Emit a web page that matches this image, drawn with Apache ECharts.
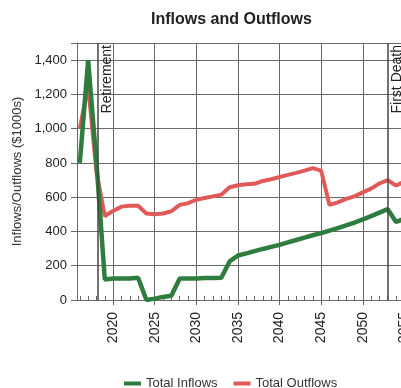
<!DOCTYPE html>
<html>
<head>
<meta charset="utf-8">
<title>Inflows and Outflows</title>
<script src="https://cdn.jsdelivr.net/npm/echarts@6/dist/echarts.min.js"></script>
<style>
  html, body { margin: 0; padding: 0; background: #fff; }
  #main { width: 401px; height: 388px; }
</style>
</head>
<body>
<div id="main"></div>
<script>
// 年份
var years = [
  2016, 2017, 2018, 2019, 2020, 2021, 2022, 2023, 2024, 2025,
  2026, 2027, 2028, 2029, 2030, 2031, 2032, 2033, 2034, 2035,
  2036, 2037, 2038, 2039, 2040, 2041, 2042, 2043, 2044, 2045,
  2046, 2047, 2048, 2049, 2050, 2051, 2052, 2053, 2054, 2055,
  2056
];
var totalInflows = [
  800, 1400, 800, 120, 125, 125, 125, 130, 0, 8,
  18, 25, 125, 125, 125, 128, 128, 130, 225, 260,
  272, 285, 298, 310, 322, 336, 350, 364, 378, 390,
  405, 420, 435, 452, 470, 490, 510, 530, 455, 475,
  490
];
var totalOutflows = [
  1000, 1250, 750, 490, 520, 545, 550, 550, 505, 500,
  505, 518, 555, 565, 585, 595, 605, 615, 658, 670,
  675, 678, 695, 705, 718, 730, 742, 755, 770, 755,
  555, 570, 590, 605, 628, 650, 680, 700, 668, 690,
  700
];
var yearLabels = [2020, 2025, 2030, 2035, 2040, 2045, 2050, 2055];
var yearTicks = [
  2016, 2017, 2018, 2019, 2020, 2021, 2022, 2023, 2024, 2025,
  2026, 2027, 2028, 2029, 2030, 2031, 2032, 2033, 2034, 2035,
  2036, 2037, 2038, 2039, 2040, 2041, 2042, 2043, 2044, 2045,
  2046, 2047, 2048, 2049, 2050, 2051, 2052, 2053, 2054, 2055,
  2056, 2057, 2058
];
var events = [
  { name: 'Retirement', year: 2018.2 },
  { name: 'First Death', year: 2053 }
];

var fontFamily = '"Liberation Sans", Arial, sans-serif';
var gridColor = '#6a6a6a';

function pairs(vals) {
  return years.map(function(y, i) { return [y, vals[i]]; });
}

var chart = echarts.init(document.getElementById('main'));
var option = {
  animation: false,
  backgroundColor: '#fff',
  title: {
    text: 'Inflows and Outflows',
    left: 146,
    top: 7,
    textStyle: { fontFamily: fontFamily, fontSize: 16, fontWeight: 'bold', color: '#222' }
  },
  legend: {
    left: 119,
    top: 372,
    icon: 'rect',
    itemWidth: 17,
    itemHeight: 4,
    itemGap: 16,
    textStyle: { fontFamily: fontFamily, fontSize: 13, color: '#333' },
    data: ['Total Inflows', 'Total Outflows']
  },
  grid: { left: 77, top: 43, right: -30, bottom: 88, containLabel: false, outerBoundsMode: 'none' },
  xAxis: [{
    type: 'value',
    position: 'bottom',
    min: 2015.66,
    max: 2058.2,
    axisLine: { show: true, lineStyle: { color: gridColor, width: 1 } },
    axisTick: { show: true, inside: false, length: 5, customValues: yearLabels, lineStyle: { color: gridColor } },
    axisLabel: {
      customValues: yearLabels,
      rotate: 90,
      margin: 12,
      fontFamily: fontFamily,
      fontSize: 14,
      color: '#222',
      formatter: function(v) { return String(v); }
    },
    splitLine: { show: true, lineStyle: { color: gridColor, width: 1 } }
  }, {
    type: 'value',
    position: 'bottom',
    min: 2015.66,
    max: 2058.2,
    axisLine: { show: false },
    axisTick: { show: true, inside: true, length: 4, customValues: yearTicks, lineStyle: { color: gridColor } },
    axisLabel: { show: false },
    splitLine: { show: false }
  }],
  yAxis: {
    type: 'value',
    min: 0,
    max: 1500,
    interval: 200,
    name: 'Inflows/Outflows ($1000s)',
    nameLocation: 'middle',
    nameGap: 50,
    nameTextStyle: { fontFamily: fontFamily, fontSize: 13, color: '#333' },
    axisLine: { show: true, lineStyle: { color: gridColor, width: 1 } },
    axisTick: { show: true, length: 6, lineStyle: { color: gridColor } },
    axisLabel: {
      margin: 10,
      fontFamily: fontFamily,
      fontSize: 13,
      color: '#222',
      formatter: function(v) { return v === 1500 ? '' : v.toLocaleString('en-US'); }
    },
    splitLine: { show: true, lineStyle: { color: gridColor, width: 1 } }
  },
  series: [{
    name: 'Total Inflows',
    type: 'line',
    xAxisIndex: 0,
    symbol: 'none',
    data: pairs(totalInflows),
    lineStyle: { color: '#2e7d3e', width: 4.5 },
    itemStyle: { color: '#2e7d3e' },
    z: 3,
    markLine: {
      silent: true,
      symbol: 'none',
      lineStyle: { color: '#444', width: 1.5, type: 'solid' },
      label: {
        position: 'insideEndBottom',
        distance: 2,
        fontFamily: fontFamily,
        fontSize: 14,
        color: '#222',
        formatter: '{b}'
      },
      data: events.map(function(e) { return { name: e.name, xAxis: e.year }; })
    }
  }, {
    name: 'Total Outflows',
    type: 'line',
    xAxisIndex: 0,
    symbol: 'none',
    data: pairs(totalOutflows),
    lineStyle: { color: '#e05a5a', width: 4 },
    itemStyle: { color: '#e05a5a' },
    z: 2
  }]
};
chart.setOption(option);
</script>
</body>
</html>
